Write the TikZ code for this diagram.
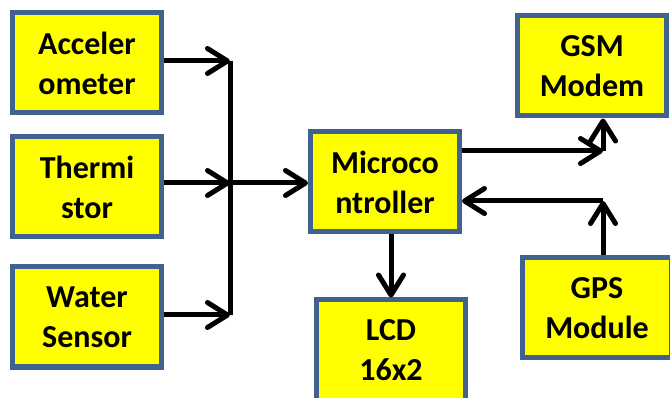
\documentclass[tikz,border=0pt]{standalone}
\usepackage{fontspec}
\setmainfont{Carlito}
\usepackage{xcolor}
\usetikzlibrary{positioning, arrows.meta}
\definecolor{boxblue}{HTML}{41628F}
\definecolor{boxyellow}{HTML}{FFFF00}

\tikzset{
  block/.style={draw=boxblue, fill=boxyellow, line width=5pt,
    minimum width=149pt, minimum height=100pt, inner sep=0pt,
    align=center, font=\fontsize{32}{40}\selectfont\bfseries},
  link/.style={line width=5pt, -{Straight Barb[length=20pt, width=25pt, round]}},
  bus/.style={line width=5pt}
}

\begin{document}
\begin{tikzpicture}[x=1pt, y=-1pt]
    \clip (0,0) rectangle (670,398);
    \fill[white] (0,0) rectangle (670,398);

    % sensors
    \node[block] (accel) at (87,63) {Acceler\\ometer};
    \node[block] (therm) at (87,187) {Thermi\\stor};
    \node[block] (water) at (87,317) {Water\\Sensor};

    % controller and peripherals
    \node[block] (micro) at (385,182) {Microco\\ntroller};
    \node[block] (gsm) at (592,66) {GSM\\Modem};
    \node[block] (lcd) at (391,350) {LCD\\16x2};
    \node[block] (gps) at (597,308) {GPS\\Module};

    % junctions
    \coordinate (busTop) at (230,61);
    \coordinate (busMid) at (230,183);
    \coordinate (busBot) at (230,315);
    \coordinate (gsmTurn) at (603,151);
    \coordinate (gpsTurn) at (603,201);

    \draw[bus] (busTop) -- (busBot);
    \draw[link] (accel.east |- busTop) -- (busTop);
    \draw[link] (therm.east |- busMid) -- (busMid);
    \draw[link] (water.east |- busBot) -- (busBot);
    \draw[link] (busMid) -- (micro.west |- busMid);

    \draw[link] (micro.east |- gsmTurn) -- (gsmTurn);
    \draw[link] (gsmTurn) -- (gsm.south -| gsmTurn);
    \draw[link] (gps.north -| gpsTurn) -- (gpsTurn);
    \draw[link] (gpsTurn) -- (micro.east |- gpsTurn);
    \draw[link] (micro.south -| lcd.north) -- (lcd.north);
\end{tikzpicture}
\end{document}
